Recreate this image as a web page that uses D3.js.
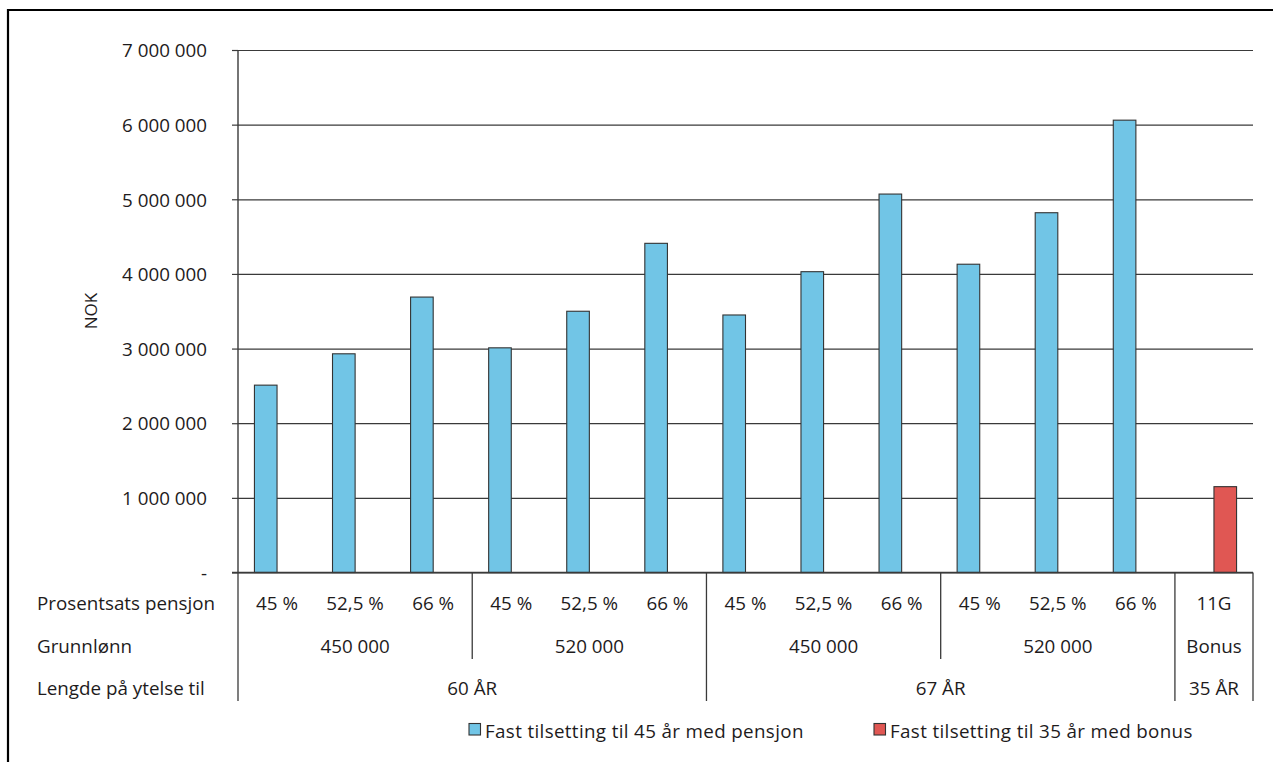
<!DOCTYPE html>
<html>
<head>
<meta charset="utf-8">
<script src="https://cdn.jsdelivr.net/npm/d3@7"></script>
<style>
  body { margin: 0; background: #fff; }
  svg text { font-family: "Open Sans", sans-serif; font-size: 18.8px; fill: #1e1b1c; }
</style>
</head>
<body>
<svg id="chart" width="1273" height="762"></svg>
<script>
// Pension rate per column (row 1 of the table under the chart)
const rateLabels = ["45 %", "52,5 %", "66 %", "45 %", "52,5 %", "66 %",
                    "45 %", "52,5 %", "66 %", "45 %", "52,5 %", "66 %", "11G"];
// Base salary groups (row 2) and how many columns each spans
const salaryLabels = ["450 000", "520 000", "450 000", "520 000", "Bonus"];
const salarySpans = [3, 3, 3, 3, 1];
// Payment duration groups (row 3) and their spans
const durationLabels = ["60 ÅR", "67 ÅR", "35 ÅR"];
const durationSpans = [6, 6, 1];
const rowTitles = ["Prosentsats pensjon", "Grunnlønn", "Lengde på ytelse til"];

// Series values, NOK
const pensionValues = [2510000, 2930000, 3690000, 3010000, 3500000, 4410000,
                       3450000, 4030000, 5070000, 4130000, 4820000, 6060000, null];
const bonusValues = [null, null, null, null, null, null,
                     null, null, null, null, null, null, 1150000];
const seriesNames = ["Fast tilsetting til 45 år med pensjon", "Fast tilsetting til 35 år med bonus"];
const seriesColors = ["#71c5e6", "#e05753"];

const yTicks = [0, 1000000, 2000000, 3000000, 4000000, 5000000, 6000000, 7000000];

const svg = d3.select("#chart");
const W = 1273, H = 762;

// Frame around the figure (top and left edges)
svg.append("path")
  .attr("d", `M8,${H} V10 H${W}`)
  .attr("fill", "none").attr("stroke", "#000").attr("stroke-width", 2.2);

const plot = { left: 238, right: 1253, top: 50, bottom: 572.5 };

const idx = d3.range(rateLabels.length);
const x = d3.scaleBand().domain(idx).range([plot.left, plot.right]).padding(0);
const x1 = d3.scaleBand().domain(["pension", "bonus"]).range([0, x.bandwidth()])
  .paddingInner(0).paddingOuter(0.727);
const y = d3.scaleLinear().domain([0, 7000000]).range([plot.bottom, plot.top]);

const nok = d3.formatLocale({ decimal: ",", thousands: " ", grouping: [3], currency: ["", ""] }).format(",");
const lineColor = "#3a3a3a";

// Gridlines and y axis with left ticks
const yAxis = d3.axisLeft(y).tickValues(yTicks)
  .tickSize(-(plot.right - plot.left)).tickPadding(31)
  .tickFormat(d => d === 0 ? "-" : nok(d));
const gy = svg.append("g").attr("transform", `translate(${plot.left},0)`).call(yAxis);
gy.select(".domain").remove();
gy.selectAll(".tick line").attr("stroke", lineColor).attr("stroke-width", 1.2);
gy.selectAll(".tick").append("line")
  .attr("x1", -6).attr("x2", 0).attr("stroke", lineColor).attr("stroke-width", 1.2);
gy.selectAll(".tick text").attr("font-size", null).attr("font-family", null)
  .attr("fill", "#1e1b1c").attr("dy", "0.36em");

// Vertical axis line
svg.append("line")
  .attr("x1", plot.left).attr("x2", plot.left)
  .attr("y1", plot.top).attr("y2", plot.bottom)
  .attr("stroke", lineColor).attr("stroke-width", 1.4);

// Bars
const bars = svg.append("g");
const drawSeries = (values, key, color) => {
  bars.selectAll(null)
    .data(idx.filter(i => values[i] != null))
    .join("rect")
    .attr("x", i => x(i) + x1(key))
    .attr("width", x1.bandwidth())
    .attr("y", i => y(values[i]))
    .attr("height", i => y(0) - y(values[i]))
    .attr("fill", color)
    .attr("stroke", "#333").attr("stroke-width", 1.1);
};
drawSeries(pensionValues, "pension", seriesColors[0]);
drawSeries(bonusValues, "bonus", seriesColors[1]);

// Category table under the plot
const rowBaselines = [609.5, 652.5, 695];
const table = svg.append("g");

rowTitles.forEach((t, r) => {
  table.append("text").attr("x", 37).attr("y", rowBaselines[r]).text(t);
});

table.selectAll(null).data(idx).join("text")
  .attr("x", i => x(i) + x.bandwidth() / 2)
  .attr("y", rowBaselines[0])
  .attr("text-anchor", "middle")
  .text(i => rateLabels[i]);

const spansToRanges = spans => {
  let start = 0;
  return spans.map(s => { const r = [start, start + s - 1]; start += s; return r; });
};
const salaryRanges = spansToRanges(salarySpans);
const durationRanges = spansToRanges(durationSpans);

salaryRanges.forEach(([a, b], k) => {
  table.append("text")
    .attr("x", (x(a) + x(b) + x.bandwidth()) / 2)
    .attr("y", rowBaselines[1]).attr("text-anchor", "middle")
    .text(salaryLabels[k]);
});
durationRanges.forEach(([a, b], k) => {
  table.append("text")
    .attr("x", (x(a) + x(b) + x.bandwidth()) / 2)
    .attr("y", rowBaselines[2]).attr("text-anchor", "middle")
    .text(durationLabels[k]);
});

// Horizontal category axis
svg.append("line")
  .attr("x1", plot.left - 6).attr("x2", plot.right)
  .attr("y1", plot.bottom).attr("y2", plot.bottom)
  .attr("stroke", lineColor).attr("stroke-width", 1.4);

// Dividers: salary boundaries stop after row 2, duration boundaries run through row 3
const durationEdges = [x(0)].concat(durationRanges.map(([a, b]) => x(b) + x.bandwidth()));
const salaryEdges = salaryRanges.map(([a, b]) => x(b) + x.bandwidth())
  .filter(e => !durationEdges.some(d => Math.abs(d - e) < 1));
durationEdges.forEach(e => {
  table.append("line").attr("x1", e).attr("x2", e)
    .attr("y1", plot.bottom).attr("y2", 701)
    .attr("stroke", lineColor).attr("stroke-width", 1.3);
});
salaryEdges.forEach(e => {
  table.append("line").attr("x1", e).attr("x2", e)
    .attr("y1", plot.bottom).attr("y2", 659)
    .attr("stroke", lineColor).attr("stroke-width", 1.3);
});

// Y axis title
svg.append("text")
  .attr("transform", "translate(97,311) rotate(-90)")
  .attr("text-anchor", "middle")
  .attr("font-family", "Liberation Sans, Arial, sans-serif")
  .style("font-size", "17px")
  .text("NOK");

// Legend
const legendX = [469, 874];
const legend = svg.append("g");
seriesNames.forEach((name, k) => {
  legend.append("rect")
    .attr("x", legendX[k]).attr("y", 723.5).attr("width", 11.5).attr("height", 11.5)
    .attr("fill", seriesColors[k]).attr("stroke", "#333").attr("stroke-width", 1.1);
  legend.append("text")
    .attr("x", legendX[k] + 16).attr("y", 737.5)
    .style("letter-spacing", "0.35px")
    .text(name);
});
</script>
</body>
</html>
